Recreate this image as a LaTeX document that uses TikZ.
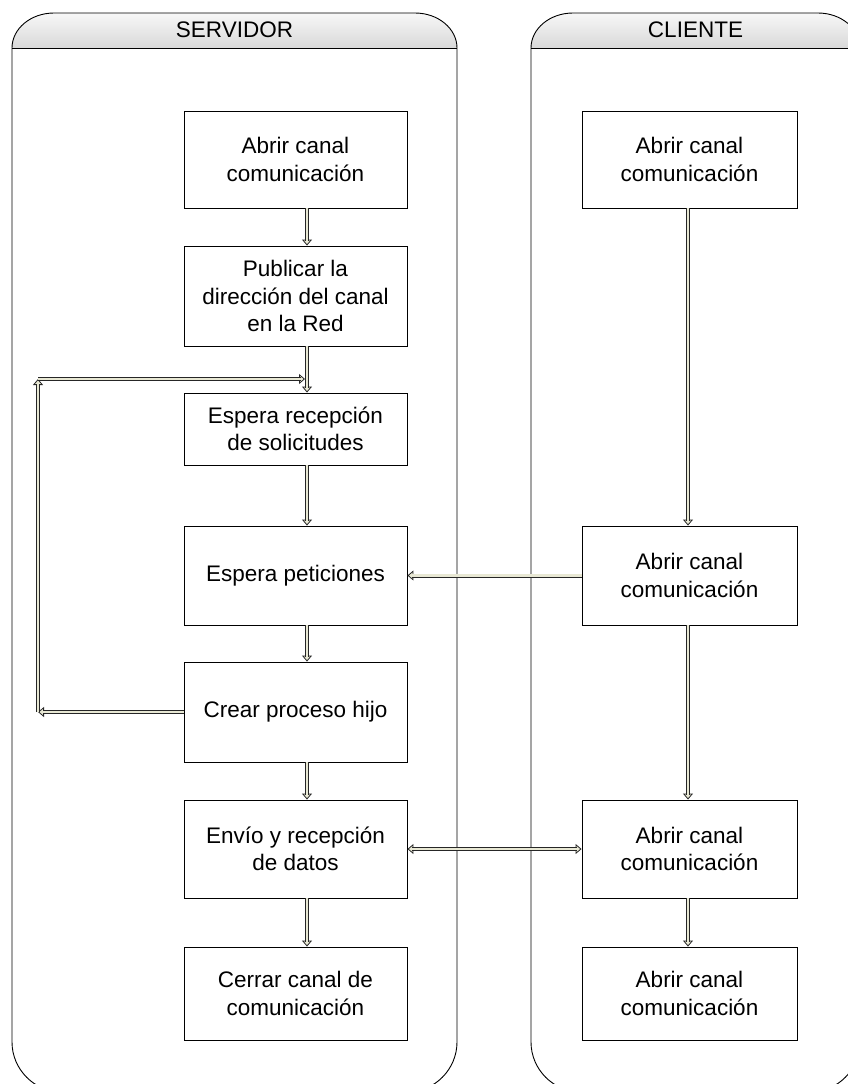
\documentclass[tikz,border=0pt]{standalone}
\usepackage{fontspec}
\setmainfont{Liberation Sans}
\usetikzlibrary{arrows.meta}
\definecolor{cream}{RGB}{232,232,212}

\tikzset{
  box/.style={draw, line width=0.9pt, fill=white, align=center, inner sep=0pt,
    font=\fontsize{22.5}{27.5}\selectfont},
  srvbox/.style={box, minimum width=223pt},
  clibox/.style={box, minimum width=215pt},
  lanetitle/.style={font=\fontsize{22.5}{27.5}\selectfont},
  lanerule/.style={line width=0.9pt},
  tipline/.style={line width=0.8pt, draw=black!85, -{Triangle[width=10pt, length=6pt, fill=cream, line width=0.8pt]}},
  tiplineboth/.style={line width=0.8pt, draw=black!85,
    {Triangle[width=10pt, length=6pt, fill=cream, line width=0.8pt]}-{Triangle[width=10pt, length=6pt, fill=cream, line width=0.8pt]}},
  shaft/.style={line width=0.8pt, draw=black!85, double=cream, double distance=2.4pt, shorten >=4.5pt},
}

% hollow double-line connector: thin base line with head, then the double shaft on top
\newcommand\dlink[2]{\draw[tipline] #1 -- #2; \draw[shaft] #1 -- #2;}
\newcommand\dlinkboth[2]{\draw[tiplineboth] #1 -- #2; \draw[shaft, shorten <=4.5pt] #1 -- #2;}

% swimlane with a shaded, round-topped header: left x, right x, node name, title
\newcommand\swimlane[4]{%
  \pgfmathsetmacro\lnL{#1}\pgfmathsetmacro\lnR{#2}%
  \pgfmathsetmacro\lnLa{#1+42}\pgfmathsetmacro\lnLc{#1+18.8}%
  \pgfmathsetmacro\lnRa{#2-42}\pgfmathsetmacro\lnRc{#2-18.8}%
  \pgfmathsetmacro\lnLb{#1+50}\pgfmathsetmacro\lnLbc{#1+22.4}%
  \pgfmathsetmacro\lnRb{#2-50}\pgfmathsetmacro\lnRbc{#2-22.4}%
  \pgfmathsetmacro\lnM{(#1+#2)/2}%
  \shade[top color=black!3, bottom color=black!15]
    (\lnL,48) .. controls (\lnL,28.67) and (\lnLc,13) .. (\lnLa,13)
    -- (\lnRa,13) .. controls (\lnRc,13) and (\lnR,28.67) .. (\lnR,48) -- cycle;
  \draw[lanerule]
    (\lnL,48) -- (\lnL,1042) .. controls (\lnL,1069.4) and (\lnLbc,1092) .. (\lnLb,1092)
    -- (\lnRb,1092) .. controls (\lnRbc,1092) and (\lnR,1069.4) .. (\lnR,1042)
    -- (\lnR,48) .. controls (\lnR,28.67) and (\lnRc,13) .. (\lnRa,13)
    -- (\lnLa,13) .. controls (\lnLc,13) and (\lnL,28.67) .. (\lnL,48) -- cycle;
  \draw[lanerule] (\lnL,48) -- (\lnR,48);
  \node[lanetitle] (#3) at (\lnM,30) {#4};
}

\begin{document}
\begin{tikzpicture}[x=1pt, y=-1pt]
  \useasboundingbox (0,0) rectangle (848,1084);
  \fill[white] (0,0) rectangle (848,1084);
  \clip (0,0) rectangle (848,1084);

  \swimlane{12}{457}{srvtitle}{SERVIDOR}
  \swimlane{531}{860}{clititle}{CLIENTE}

  % server steps
  \node[srvbox, minimum height=97pt]  (s1) at (295.5,159.5) {Abrir canal\\comunicación};
  \node[srvbox, minimum height=100pt] (s2) at (295.5,296)   {Publicar la\\dirección del canal\\en la Red};
  \node[srvbox, minimum height=72pt]  (s3) at (295.5,429)   {Espera recepción\\de solicitudes};
  \node[srvbox, minimum height=99pt]  (s4) at (295.5,575.5) {Espera peticiones};
  \node[srvbox, minimum height=100pt] (s5) at (295.5,712)   {Crear proceso hijo};
  \node[srvbox, minimum height=98pt]  (s6) at (295.5,849)   {Envío y recepción\\de datos};
  \node[srvbox, minimum height=93pt]  (s7) at (295.5,993.5) {Cerrar canal de\\comunicación};

  % client steps
  \node[clibox, minimum height=97pt] (c1) at (689.5,159.5) {Abrir canal\\comunicación};
  \node[clibox, minimum height=99pt] (c2) at (689.5,575.5) {Abrir canal\\comunicación};
  \node[clibox, minimum height=98pt] (c3) at (689.5,849)   {Abrir canal\\comunicación};
  \node[clibox, minimum height=93pt] (c4) at (689.5,993.5) {Abrir canal\\comunicación};

  % connector columns and loop corners
  \coordinate (sx) at (307,0);
  \coordinate (cx) at (688,0);
  \coordinate (loopbottom) at (38,712);
  \coordinate (looptop) at (38,379);
  \coordinate (loopend) at (305,379);

  % server flow
  \dlink{(s1.south -| sx)}{(s2.north -| sx)}
  \dlink{(s2.south -| sx)}{(s3.north -| sx)}
  \dlink{(s3.south -| sx)}{(s4.north -| sx)}
  \dlink{(s4.south -| sx)}{(s5.north -| sx)}
  \dlink{(s5.south -| sx)}{(s6.north -| sx)}
  \dlink{(s6.south -| sx)}{(s7.north -| sx)}

  % client flow
  \dlink{(c1.south -| cx)}{(c2.north -| cx)}
  \dlink{(c2.south -| cx)}{(c3.north -| cx)}
  \dlink{(c3.south -| cx)}{(c4.north -| cx)}

  % between lanes
  \dlink{(c2.west)}{(s4.east)}
  \dlinkboth{(s6.east)}{(c3.west)}

  % loop back from the child process to waiting for requests
  \dlink{(s5.west)}{(loopbottom)}
  \dlink{(loopbottom)}{(looptop)}
  \dlink{(looptop)}{(loopend)}
\end{tikzpicture}
\end{document}
